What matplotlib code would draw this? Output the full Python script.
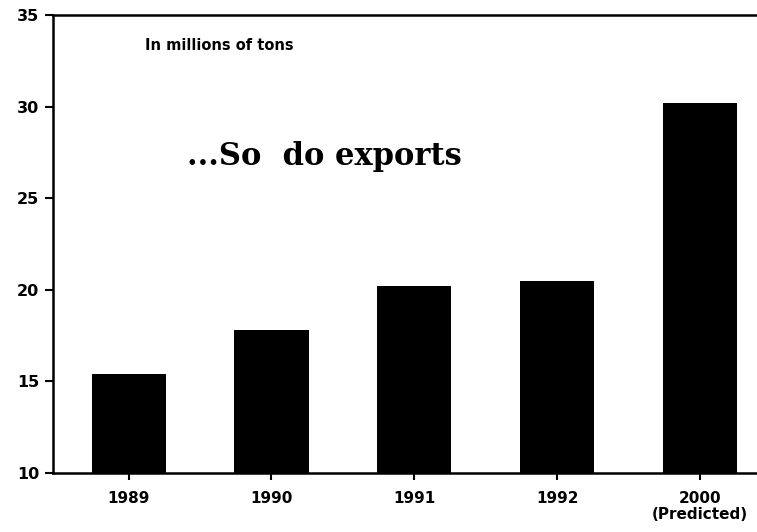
import matplotlib
matplotlib.use("Agg")
import matplotlib.pyplot as plt

years = ["1989", "1990", "1991", "1992", "2000\n(Predicted)"]
exports = [15.4, 17.8, 20.2, 20.5, 30.2]
yticks = [10, 15, 20, 25, 30, 35]

fig = plt.figure(figsize=(7.57, 5.32), dpi=100)
ax = fig.add_axes([0.070, 0.111, 0.930, 0.861])

x = list(range(len(years)))
ax.bar(x, [v - 10 for v in exports], bottom=10, width=0.52, color="black")

ax.set_xlim(-0.53, 4.4)
ax.set_ylim(10, 35)
ax.set_yticks(yticks)
ax.set_yticklabels([str(t) for t in yticks], fontweight="bold", fontsize=11.5)
ax.set_xticks(x)
ax.set_xticklabels(years, fontweight="bold", fontsize=11, linespacing=1.1)

ax.spines["right"].set_visible(False)
for s in ["left", "top", "bottom"]:
    ax.spines[s].set_linewidth(1.8)
ax.tick_params(axis="y", direction="out", length=6, width=1.5, pad=4)
ax.tick_params(axis="x", direction="out", length=5, width=1.5, pad=8)

ax.text(0.131, 0.95, "In millions of tons", transform=ax.transAxes,
        fontsize=10.5, fontweight="bold", va="top", ha="left")
ax.text(0.19, 0.69, "...So  do exports", transform=ax.transAxes,
        fontsize=22, fontweight="bold", family="DejaVu Serif", va="center", ha="left")

fig.savefig("out.png", dpi=100)
